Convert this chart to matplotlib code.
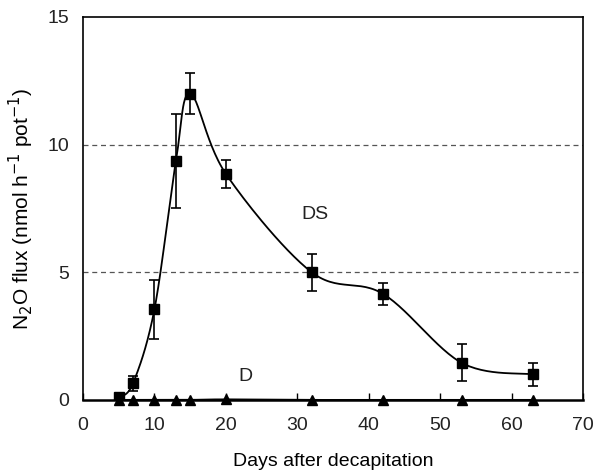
import numpy as np
import matplotlib
matplotlib.use("Agg")
import matplotlib.pyplot as plt

plt.rcParams['font.family'] = ['Liberation Sans', 'DejaVu Sans']
plt.rcParams['text.color'] = '#222222'

days = [5, 7, 10, 13, 15, 20, 32, 42, 53, 63]
ds_flux = [0.1, 0.65, 3.55, 9.35, 12.0, 8.85, 5.0, 4.15, 1.45, 1.0]
ds_err = [0.05, 0.3, 1.15, 1.85, 0.8, 0.55, 0.72, 0.43, 0.72, 0.45]
d_flux = [0.0, 0.0, 0.0, 0.0, 0.0, 0.02, 0.0, 0.0, 0.0, 0.0]


def smooth(x, y, n=30):
    # Excel-like smoothed line (Catmull-Rom style bezier)
    x = np.asarray(x, float)
    y = np.asarray(y, float)
    px = np.concatenate([[x[0]], x, [x[-1]]])
    py = np.concatenate([[y[0]], y, [y[-1]]])
    xs, ys = [], []
    t = np.linspace(0, 1, n)
    for i in range(1, len(px) - 2):
        p0 = np.array([px[i], py[i]])
        p3 = np.array([px[i + 1], py[i + 1]])
        p1 = p0 + (np.array([px[i + 1], py[i + 1]]) - np.array([px[i - 1], py[i - 1]])) / 6
        p2 = p3 - (np.array([px[i + 2], py[i + 2]]) - np.array([px[i], py[i]])) / 6
        b = ((1 - t) ** 3)[:, None] * p0 + (3 * (1 - t) ** 2 * t)[:, None] * p1 \
            + (3 * (1 - t) * t ** 2)[:, None] * p2 + (t ** 3)[:, None] * p3
        xs.extend(b[:, 0])
        ys.extend(b[:, 1])
    return xs, ys


fig = plt.figure(figsize=(5.97, 4.71), dpi=100)
ax = fig.add_axes([0.139, 0.151, 0.838, 0.813])

for yv in [5, 10]:
    ax.axhline(yv, color='#555555', linestyle=(0, (4, 3)), linewidth=0.9, zorder=1)

sx, sy = smooth(days, ds_flux)
ax.plot(sx, sy, color='black', linewidth=1.3, zorder=2)
sx, sy = smooth(days, d_flux)
ax.plot(sx, sy, color='black', linewidth=1.3, zorder=2)

ax.errorbar(days, ds_flux, yerr=ds_err, fmt='none', ecolor='black',
            elinewidth=1.2, capsize=3.5, capthick=1.2, zorder=3)
ax.plot(days, ds_flux, 's', color='black', markersize=7, zorder=4)
ax.plot(days, d_flux, '^', color='black', markersize=7, zorder=5, clip_on=False)

ax.text(32.5, 7.25, 'DS', fontsize=14, ha='center', va='center')
ax.text(22.7, 0.9, 'D', fontsize=14, ha='center', va='center')

ax.set_xlim(0, 70)
ax.set_ylim(0, 15)
ax.set_xticks(range(0, 71, 10))
ax.set_yticks([0, 5, 10, 15])
ax.tick_params(direction='in', labelsize=14, length=5, width=1, labelcolor='#222222')
ax.tick_params(axis='x', pad=12)
ax.tick_params(axis='y', length=0, pad=10)
for s in ax.spines.values():
    s.set_linewidth(1.2)
ax.spines['bottom'].set_linewidth(1.8)

ax.set_xlabel('Days after decapitation', fontsize=14, labelpad=14)
ax.set_ylabel('N$_2$O flux (nmol h$^{-1}$ pot$^{-1}$)', fontsize=15, labelpad=8)

fig.savefig('out.png', dpi=100)
